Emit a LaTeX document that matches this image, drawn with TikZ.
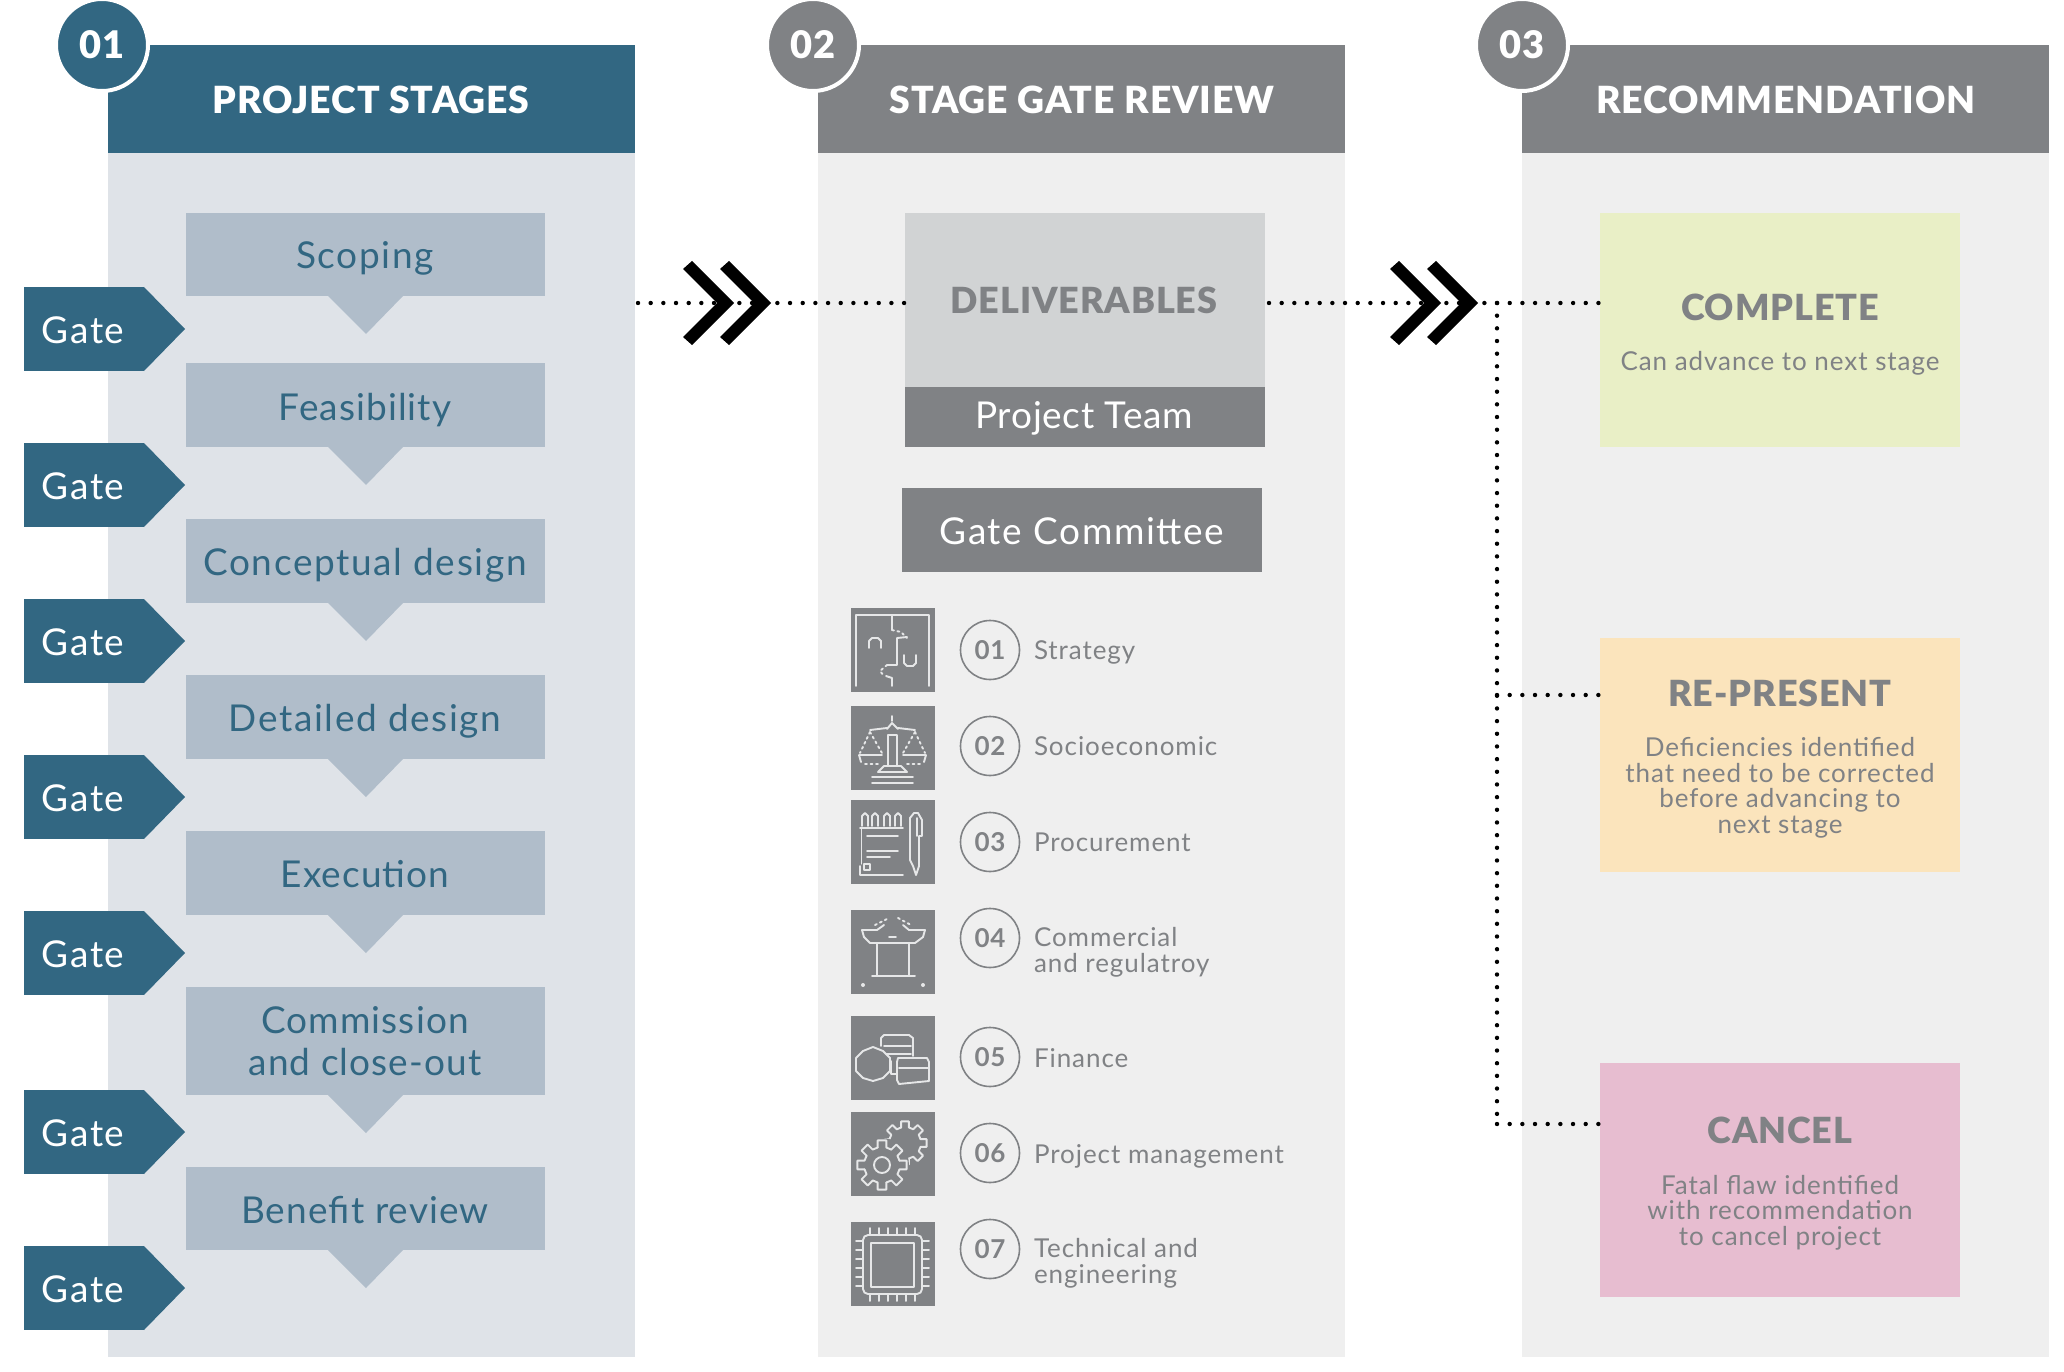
\documentclass[tikz,border=0pt]{standalone}
\usepackage{fontspec}
\setmainfont{Lato}
\newfontfamily\ltrbig[LetterSpace=4.5]{Lato}
\newfontfamily\ltrmid[LetterSpace=3]{Lato}
\newfontfamily\ltrsmall[LetterSpace=3.6]{Lato}
\newfontfamily\ltrnum[LetterSpace=2]{Lato}
\newfontfamily\ltrttl[LetterSpace=2.4]{Lato Black}
\definecolor{teal}{HTML}{326782}
\definecolor{tealbg}{HTML}{DFE3E8}
\definecolor{stagebox}{HTML}{B0BDCA}
\definecolor{graybar}{HTML}{808285}
\definecolor{graybg}{HTML}{EFEFEF}
\definecolor{delivbg}{HTML}{D1D3D4}
\definecolor{okbg}{HTML}{E9EFC6}
\definecolor{warnbg}{HTML}{FBE4BC}
\definecolor{badbg}{HTML}{E7BDD0}
\definecolor{icline}{HTML}{E6E7E8}
\tikzset{
  rbox/.style={draw=none,inner sep=0,outer sep=0,rectangle},
  lbl/.style={inner sep=0,outer sep=0,anchor=base},
  lbll/.style={inner sep=0,outer sep=0,anchor=base west},
  fbig/.style={font=\ltrbig\fontsize{37}{42}\selectfont},
  fmid/.style={font=\ltrmid\fontsize{37}{42}\selectfont},
  fteam/.style={font=\ltrnum\fontsize{37}{42}\selectfont},
  fsmall/.style={font=\ltrsmall\fontsize{26}{25.4}\selectfont},
  ftitle/.style={font=\ltrttl\fontsize{36}{42}\selectfont},
  fhead/.style={font=\ltrttl\fontsize{37.4}{42}\selectfont},
  badge/.style={circle,inner sep=0,minimum size=92pt,draw=white,line width=4pt,text=white,font=\ltrttl\fontsize{38}{40}\selectfont},
  numc/.style={circle,inner sep=0,minimum size=59pt,draw=graybar,line width=1.6pt,text=graybar,font=\ltrnum\bfseries\fontsize{26}{30}\selectfont},
  dots/.style={draw=black,line width=4.4pt,line cap=round,dash pattern=on 0pt off 12.67pt},
  chev/.style={fill=black},
  ic/.style={draw=icline,line width=1.9pt,line join=round,line cap=round},
  icd/.style={ic,dash pattern=on 2pt off 3.5pt},
}
\newcommand{\rectnode}[6]{%
  \pgfmathsetmacro\rw{#4-#2}\pgfmathsetmacro\rh{#5-#3}%
  \pgfmathsetmacro\rx{(#2+#4)/2}\pgfmathsetmacro\ry{(#3+#5)/2}%
  \node[rbox,#6,minimum width=\rw pt,minimum height=\rh pt] (#1) at (\rx,\ry) {};}
\newcommand{\gatebox}[2]{%
  \pgfmathsetmacro\gb{#2+84}\pgfmathsetmacro\gm{#2+42}\pgfmathsetmacro\gt{#2+56}%
  \rectnode{#1}{24}{#2}{144}{\gb}{fill=teal}
  \fill[teal] (#1.north east) -- (185,\gm) -- (#1.south east) -- cycle;
  \node[lbl,fbig,text=white] (#1t) at (83,\gt) {Gate};}
\newcommand{\stagebox}[3]{%
  \pgfmathsetmacro\sb{#3+38}%
  \rectnode{#1}{186}{#2}{545}{#3}{fill=stagebox}
  \fill[stagebox] (328,#3) -- (366,\sb) -- (403,#3) -- cycle;}
\newcommand{\chevron}[1]{%
  \begin{scope}[shift={(#1,303)}]
  \fill[chev] (-42,-42) -- (0,0) -- (-42,42) -- (-51,34) -- (-17,0) -- (-51,-34) -- cycle;
  \end{scope}}
\begin{document}
\begin{tikzpicture}[x=1pt,y=-1pt]
\useasboundingbox (0,0) rectangle (2064,1372);
\fill[white] (0,0) rectangle (2064,1372);

% panels
\rectnode{pa}{108}{153}{635}{1357}{fill=tealbg}
\rectnode{pah}{108}{45}{635}{153}{fill=teal}
\rectnode{pb}{818}{153}{1345}{1357}{fill=graybg}
\rectnode{pbh}{818}{45}{1345}{153}{fill=graybar}
\rectnode{pc}{1522}{153}{2049}{1357}{fill=graybg}
\rectnode{pch}{1522}{45}{2049}{153}{fill=graybar}
\node[badge,fill=teal] (ba) at (102,45) {01};
\node[badge,fill=graybar] (bb) at (813,45) {02};
\node[badge,fill=graybar] (bc) at (1522,45) {03};
\node[lbl,fhead,text=white] (ta) at (371,114) {PROJECT STAGES};
\node[lbl,fhead,text=white] (tb) at (1082,114) {STAGE GATE REVIEW};
\node[lbl,fhead,text=white] (tc) at (1786,114) {RECOMMENDATION};

% stages
\stagebox{s1}{213}{296}
\stagebox{s2}{363}{447}
\stagebox{s3}{519}{603}
\stagebox{s4}{675}{759}
\stagebox{s5}{831}{915}
\stagebox{s6}{987}{1095}
\stagebox{s7}{1167}{1250}
\node[lbl,fbig,text=teal] (s1t) at (365,269) {Scoping};
\node[lbl,fmid,text=teal] (s2t) at (365,420) {Feasibility};
\node[lbl,fbig,text=teal] (s3t) at (365,575) {Conceptual design};
\node[lbl,fbig,text=teal] (s4t) at (365,731) {Detailed design};
\node[lbl,fmid,text=teal] (s5t) at (365,887) {Execution};
\node[lbl,fmid,text=teal] (s6t) at (365,1033) {Commission};
\node[lbl,fmid,text=teal] (s6u) at (365,1075) {and close-out};
\node[lbl,fmid,text=teal] (s7t) at (365,1223) {Benefit review};

\gatebox{g1}{287}
\gatebox{g2}{443}
\gatebox{g3}{599}
\gatebox{g4}{755}
\gatebox{g5}{911}
\gatebox{g6}{1090}
\gatebox{g7}{1246}

% middle column boxes
\rectnode{del}{905}{213}{1265}{387}{fill=delivbg}
\rectnode{team}{905}{387}{1265}{447}{fill=graybar}
\rectnode{comm}{902}{488}{1262}{572}{fill=graybar}
\node[lbl,ftitle,text=graybar] (delt) at (1084,314) {DELIVERABLES};
\node[lbl,fteam,text=white] (teamt) at (1084,428) {Project Team};
\node[lbl,fbig,text=white] (commt) at (1082,544) {Gate Committee};

% recommendation boxes
\rectnode{rok}{1600}{213}{1960}{447}{fill=okbg}
\rectnode{rre}{1600}{638}{1960}{872}{fill=warnbg}
\rectnode{rca}{1600}{1063}{1960}{1297}{fill=badbg}
\node[lbl,ftitle,text=graybar] (rokt) at (1780,320) {COMPLETE};
\node[lbl,fsmall,text=graybar] (roku) at (1780,370) {Can advance to next stage};
\node[lbl,ftitle,text=graybar] (rret) at (1780,706) {RE-PRESENT};
\node[lbl,fsmall,text=graybar,align=center] (rreu) at (1780,833) {Deficiencies identified\\that need to be corrected\\before advancing to\\next stage};
\node[lbl,ftitle,text=graybar] (rcat) at (1780,1143) {CANCEL};
\node[lbl,fsmall,text=graybar,align=center] (rcau) at (1780,1245) {Fatal flaw identified\\with recommendation\\to cancel project};

% dotted connectors
\coordinate (dstart) at (638,303);
\coordinate (dmid) at (1269,303);
\coordinate (hub) at (1497,303);
\coordinate (hubb) at (1497,695);
\coordinate (hubc) at (1497,1124);
\draw[dots] (dstart) -- (del.west |- hub);
\draw[dots] (dmid) -- (rok.west |- hub);
\draw[dots] (hub) -- (hubc);
\draw[dots] (hubb) -- (rre.west |- hubb);
\draw[dots] (hubc) -- (rca.west |- hubc);
\chevron{734}\chevron{771}
\chevron{1441}\chevron{1478}

% committee list
\foreach \i/\y in {1/608,2/706,3/800,4/910,5/1016,6/1112,7/1222}{
  \pgfmathsetmacro\yy{\y+84}
  \rectnode{ic\i}{851}{\y}{935}{\yy}{fill=graybar}
}
\node[numc] (n1) at (990,650) {01};
\node[numc] (n2) at (990,746) {02};
\node[numc] (n3) at (990,842) {03};
\node[numc] (n4) at (990,938) {04};
\node[numc] (n5) at (990,1057) {05};
\node[numc] (n6) at (990,1153) {06};
\node[numc] (n7) at (990,1249) {07};
\node[lbll,fsmall,text=graybar] (m1) at (1034,659) {Strategy};
\node[lbll,fsmall,text=graybar] (m2) at (1034,755) {Socioeconomic};
\node[lbll,fsmall,text=graybar] (m3) at (1034,851) {Procurement};
\node[lbll,fsmall,text=graybar] (m4) at (1034,946) {Commercial};
\node[lbll,fsmall,text=graybar] (m4b) at (1034,972) {and regulatroy};
\node[lbll,fsmall,text=graybar] (m5) at (1034,1067) {Finance};
\node[lbll,fsmall,text=graybar] (m6) at (1034,1163) {Project management};
\node[lbll,fsmall,text=graybar] (m7) at (1034,1257) {Technical and};
\node[lbll,fsmall,text=graybar] (m7b) at (1034,1283) {engineering};

% icon 1: maze
\begin{scope}[shift={(851,608)}]
\draw[ic] (5,78) -- (5,7) -- (78,7) -- (78,78);
\draw[ic] (41,7) -- (41,22);
\draw[icd] (41,22) -- (50,24) -- (56,30);
\draw[ic] (56,29) -- (46,30) -- (46,57) -- (36,57);
\draw[icd] (36,57) -- (29,63) -- (33,68);
\draw[ic] (35,68) -- (41,70) -- (41,78);
\draw[ic] (18,40) -- (18,33) -- (21,30) -- (27,30) -- (30,33) -- (30,40);
\draw[ic] (53,47) -- (53,55) -- (56,58) -- (62,58) -- (65,55) -- (65,47);
\end{scope}
% icon 2: scales
\begin{scope}[shift={(851,706)}]
\draw[ic] (37,29) rectangle (46,60);
\draw[ic] (27,66) -- (33,60) -- (50,60) -- (56,66) -- cycle;
\draw[ic] (21,71) -- (62,71) (21,77) -- (62,77);
\draw[ic] (41,10) -- (41,15) (36,23) -- (41,17) -- (47,23);
\draw[ic] (19,24) -- (36,22) (47,22) -- (64,24);
\draw[icd] (19,26) -- (9,47) (19,26) -- (31,47) (64,26) -- (52,47) (64,26) -- (74,47);
\draw[ic] (8,49) -- (31,49) (8,49) -- (10,56) (52,49) -- (75,49) (75,49) -- (73,56);
\draw[icd] (14,58) -- (28,58) (56,58) -- (70,58);
\end{scope}
% icon 3: notepad and pen
\begin{scope}[shift={(851,800)}]
\foreach \x in {14,24,36,47}{\draw[ic] (\x-3,26) -- (\x-3,16) -- (\x,13) -- (\x+3,16) -- (\x+3,26);}
\draw[ic] (9,28) -- (52,28);
\draw[ic,line width=1pt] (10,28) -- (10,64);
\draw[ic] (16,36) -- (47,36) (16,51) -- (47,51) (16,57) -- (39,57);
\draw[ic] (9,66) -- (9,75) -- (52,75) (13,64) rectangle (19,70);
\draw[ic] (59,18) -- (63,13) -- (67,13) -- (71,20) -- (71,36) -- (68,36) -- (68,66) -- (65,75) -- (62,66) -- (59,60) -- cycle;
\draw[ic] (66,18) -- (66,36);
\end{scope}
% icon 4: table
\begin{scope}[shift={(851,910)}]
\draw[icd] (24,15) -- (38,8) (47,8) -- (60,15);
\draw[ic] (11,20) -- (26,20) -- (33,15) (52,15) -- (58,20) -- (74,20);
\draw[ic] (11,20) -- (13,27) -- (19,33) -- (64,33) -- (72,27) -- (74,20);
\draw[ic] (38,27) -- (45,27);
\draw[ic] (26,33) -- (26,65) (58,33) -- (58,65);
\draw[ic] (21,66) -- (64,66);
\fill[icline] (12,75) circle (2) (72,75) circle (2);
\end{scope}
% icon 5: coins
\begin{scope}[shift={(851,1016)}]
\draw[ic] (22,31) -- (32,35) -- (39,42) -- (39,55) -- (32,62) -- (22,65) -- (12,62) -- (5,55) -- (5,42) -- (12,35) -- cycle;
\draw[ic] (30,30) -- (30,22) -- (33,19) -- (58,19) -- (62,22) -- (62,40);
\draw[ic] (33,30) -- (60,30) (35,38) -- (60,38);
\draw[ic] (47,42) -- (76,42) -- (78,46) -- (78,65) -- (48,68) -- (46,64) -- (46,46) -- cycle;
\draw[ic] (48,52) -- (77,52);
\draw[ic] (40,45) -- (40,58) (46,58) -- (40,58);
\end{scope}
% icon 6: gears
\begin{scope}[shift={(851,1112)}]
\begin{scope}[shift={(54,31)}]
\foreach \a in {0,45,...,315}{\draw[ic] (\a-14:16) -- (\a-10:22) -- (\a+10:22) -- (\a+14:16) -- (\a+31:16);}
\end{scope}
\fill[graybar] (31,53) circle (27);
\begin{scope}[shift={(31,53)}]
\foreach \a in {0,45,...,315}{\draw[ic] (\a-14:18) -- (\a-10:25) -- (\a+10:25) -- (\a+14:18) -- (\a+31:18);}
\draw[ic] (0,0) circle (8);
\end{scope}
\end{scope}
% icon 7: chip
\begin{scope}[shift={(851,1222)}]
\draw[ic,rounded corners=5pt] (12,13) rectangle (71,72);
\draw[ic] (20,21) rectangle (63,65);
\foreach \p in {22,31,40,49,58,67}{
  \draw[ic] (5,\p-3) -- (12,\p-3) (71,\p-3) -- (78,\p-3);
  \draw[ic] (\p-3,6) -- (\p-3,13) (\p-3,72) -- (\p-3,79);
}
\end{scope}
\end{tikzpicture}
\end{document}
